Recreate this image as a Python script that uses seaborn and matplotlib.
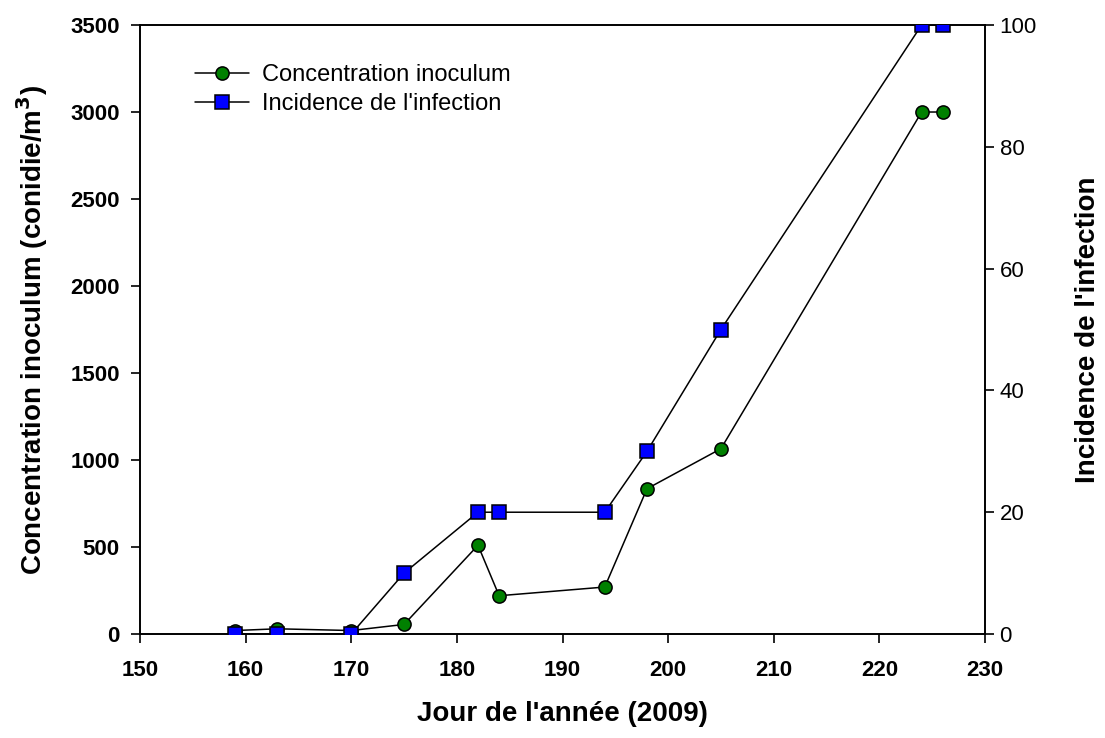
import matplotlib
matplotlib.use("Agg")
import matplotlib.pyplot as plt
import pandas as pd
import seaborn as sns

# jour de l'année (2009)
days = [159, 163, 170, 175, 182, 184, 194, 198, 205, 224, 226]
inoculum = [20, 30, 20, 55, 510, 220, 270, 835, 1065, 3000, 3000]
incidence = [0, 0, 0, 10, 20, 20, 20, 30, 50, 100, 100]

df = pd.DataFrame({"jour": days, "inoculum": inoculum, "incidence": incidence})

sns.set_theme(style="ticks")
plt.rcParams["font.family"] = ["Liberation Sans", "DejaVu Sans"]
for key in ["text.color", "axes.labelcolor", "xtick.color", "ytick.color", "axes.edgecolor"]:
    plt.rcParams[key] = "black"

fig = plt.figure(figsize=(11.05, 7.38), dpi=100)
ax = fig.add_axes([0.1267, 0.1409, 0.7647, 0.8252])
ax2 = ax.twinx()

sns.lineplot(data=df, x="jour", y="inoculum", ax=ax, color="black", lw=1.1,
             marker="o", markersize=9.5, markerfacecolor="#008000",
             markeredgecolor="black", markeredgewidth=1.1, zorder=3)
sns.lineplot(data=df, x="jour", y="incidence", ax=ax2, color="black", lw=1.1,
             marker="s", markersize=9.5, markerfacecolor="#0000ff",
             markeredgecolor="black", markeredgewidth=1.1, zorder=3)

ax.set_xlim(150, 230)
ax.set_ylim(0, 3500)
ax2.set_ylim(0, 100)
ax.set_xticks(range(150, 231, 10))
ax.set_yticks(range(0, 3501, 500))
ax2.set_yticks(range(0, 101, 20))

for a in (ax, ax2):
    for s in a.spines.values():
        s.set_color("black")
        s.set_linewidth(1.2)
    a.tick_params(direction="out", length=6.5, width=1.2, colors="black")

ax.tick_params(axis="x", labelsize=16, pad=12)
ax.tick_params(axis="y", labelsize=16, pad=8)
for lab in ax.get_xticklabels() + ax.get_yticklabels():
    lab.set_fontweight("bold")
ax2.tick_params(axis="y", labelsize=16, pad=4)

ax.set_xlabel("Jour de l'année (2009)", fontsize=20, fontweight="bold")
ax.set_ylabel("Concentration inoculum (conidie/m$^\\mathbf{3}$)", fontsize=20,
              fontweight="bold")
ax2.set_ylabel("Incidence de l'infection", fontsize=20, fontweight="bold")
ax.xaxis.set_label_coords(0.5, -0.11)
ax.yaxis.set_label_coords(-0.107, 0.5)
ax2.yaxis.set_label_coords(1.106, 0.5)

handles = [ax.lines[0], ax2.lines[0]]
labels = ["Concentration inoculum", "Incidence de l'infection"]
ax.legend(handles, labels, loc="upper left", bbox_to_anchor=(0.065, 0.936),
          frameon=False, fontsize=17, handlelength=2.3, handletextpad=0.55,
          labelspacing=0.3, borderpad=0, borderaxespad=0)

fig.savefig("out.png", dpi=100)
